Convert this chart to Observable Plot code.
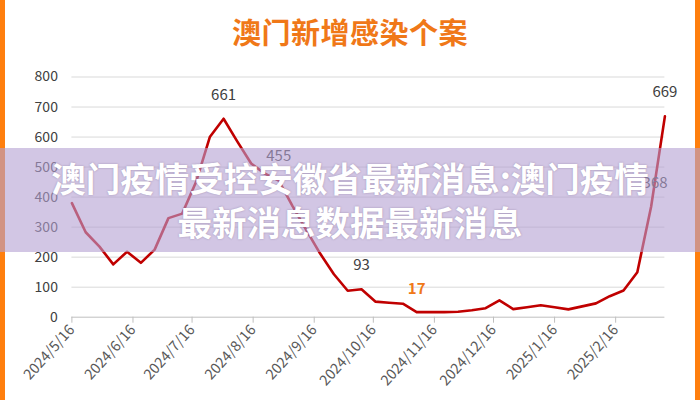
<!DOCTYPE html>
<html>
<head>
<meta charset="utf-8">
<script src="https://cdn.jsdelivr.net/npm/d3@7"></script>
<script src="https://cdn.jsdelivr.net/npm/@observablehq/plot@0.6"></script>
<style>
  html, body { margin: 0; padding: 0; background: #fff; }
  #wrap { position: relative; width: 700px; height: 400px; overflow: hidden; background: #fff;
          font-family: "Noto Sans CJK SC", "Noto Sans", sans-serif; }
  #title { position: absolute; left: 0; top: 12px; width: 700px; text-align: center;
           font-size: 29px; font-weight: 700; color: #f07818; line-height: 38px; letter-spacing: 0.5px; }
  #chart { position: absolute; left: 0; top: 60px; }
  .border { position: absolute; top: 0; width: 5px; height: 400px; background: #ff7f0e; }
  #banner { position: absolute; left: 0; top: 148px; width: 700px; height: 104px;
            background: rgba(180,160,210,0.6); box-sizing: border-box; padding-top: 7px;
            text-align: center; color: #fff; font-weight: 700; font-size: 34.5px; line-height: 44px;
            text-shadow: 0 0 2px rgba(90,70,110,0.45); }
</style>
</head>
<body>
<div id="wrap">
  <div id="title">澳门新增感染个案</div>
  <div id="chart"></div>
  <div class="border" style="left:0"></div>
  <div class="border" style="left:695px"></div>
  <div id="banner">澳门疫情受控安徽省最新消息:澳门疫情<br>最新消息数据最新消息</div>
</div>
<script>
const weeks = [
  "2024-05-16","2024-05-23","2024-05-30","2024-06-06","2024-06-13","2024-06-20","2024-06-27",
  "2024-07-04","2024-07-11","2024-07-18","2024-07-25","2024-08-01","2024-08-08","2024-08-15",
  "2024-08-22","2024-08-29","2024-09-05","2024-09-12","2024-09-19","2024-09-26","2024-10-03",
  "2024-10-10","2024-10-17","2024-10-24","2024-10-31","2024-11-07","2024-11-14","2024-11-21",
  "2024-11-28","2024-12-05","2024-12-12","2024-12-19","2024-12-26","2025-01-02","2025-01-09",
  "2025-01-16","2025-01-23","2025-01-30","2025-02-06","2025-02-13","2025-02-20","2025-02-27",
  "2025-03-06","2025-03-13"
];
const cases = [
  380, 283, 235, 176, 218, 181, 225,
  330, 345, 450, 600, 661, 585, 512,
  478, 455, 370, 290, 212, 143, 88,
  93, 52, 48, 45, 17, 17, 17,
  18, 23, 30, 56, 27, 33, 40,
  33, 26, 36, 46, 70, 89, 150,
  368, 669
];
const tickLabels = ["2024/5/16","2024/6/16","2024/7/16","2024/8/16","2024/9/16",
                    "2024/10/16","2024/11/16","2024/12/16","2025/1/16","2025/2/16"];
const yTicks = [0, 100, 200, 300, 400, 500, 600, 700, 800];
const labelWeeks = ["2024-08-01","2024-08-29","2024-10-10","2025-03-13"];
const shiftedLabelWeeks = ["2025-03-06"];
const highlightWeek = "2024-11-07";

const parseISO = d3.utcParse("%Y-%m-%d");
const parseTick = d3.utcParse("%Y/%m/%d");
const data = weeks.map((w, i) => ({date: parseISO(w), key: w, value: cases[i]}));
const tickDates = tickLabels.map(parseTick);
const fmt = d => `${d.getUTCFullYear()}/${d.getUTCMonth() + 1}/${d.getUTCDate()}`;
const plain = data.filter(d => labelWeeks.includes(d.key));
const shifted = data.filter(d => shiftedLabelWeeks.includes(d.key));
const hi = data.filter(d => d.key === highlightWeek);

const chart = Plot.plot({
  width: 700,
  height: 340,
  marginLeft: 71.4,
  marginRight: 35.6,
  marginTop: 16.5,
  marginBottom: 83.3,
  x: {type: "utc", domain: [data[0].date, data[data.length - 1].date]},
  y: {domain: [0, 800]},
  style: {fontFamily: '"Noto Sans CJK SC", "Noto Sans", sans-serif', fontSize: "14px", background: "transparent", color: "#595959"},
  marks: [
    Plot.ruleY(yTicks.filter(v => v > 0), {stroke: "#d9d9d9", strokeWidth: 1}),
    Plot.ruleY([0], {stroke: "#bfbfbf", strokeWidth: 1}),
    Plot.axisY({ticks: yTicks, tickSize: 0, tickPadding: 14, fontSize: 14, fill: "#404040", label: null}),
    Plot.axisX({ticks: tickDates, tickFormat: fmt, tickRotate: -48, tickSize: 6, tickPadding: 4,
                stroke: "#bfbfbf", fill: "#595959", fontSize: 14.5, label: null}),
    Plot.line(data, {x: "date", y: "value", stroke: "#c00000", strokeWidth: 2.6, strokeLinejoin: "round"}),
    Plot.text(plain, {x: "date", y: "value", text: d => String(d.value), dy: -24, fontSize: 15, fill: "#404040"}),
    Plot.text(shifted, {x: "date", y: "value", text: d => String(d.value), dy: -24, dx: 4, fontSize: 15, fill: "#404040"}),
    Plot.text(hi, {x: "date", y: "value", text: d => String(d.value), dy: -23, fontSize: 15, fontWeight: "bold", fill: "#f07818"})
  ]
});
document.getElementById("chart").appendChild(chart);
</script>
</body>
</html>
